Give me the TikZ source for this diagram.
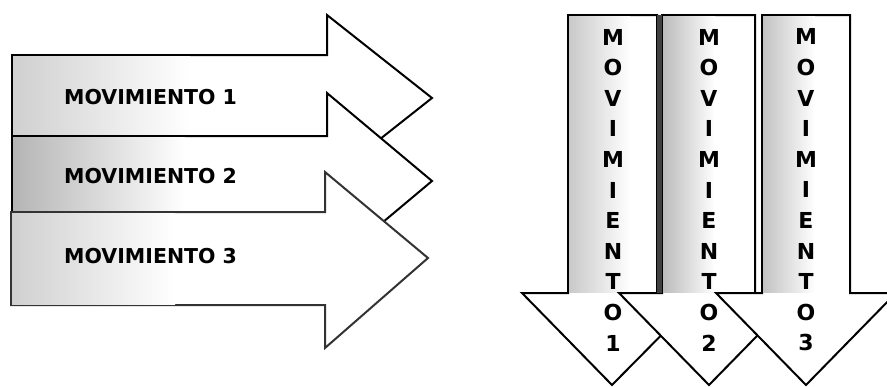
\documentclass[tikz,border=0pt]{standalone}
\usepackage{fontspec}
\setmainfont{DejaVu Sans}
\definecolor{Smudge}{RGB}{120,120,120}

\begin{document}
\begin{tikzpicture}[x=1pt, y=-1pt,
  arw/.style={draw=black, line width=2pt, fill=white, line join=miter},
  shd/.style={left color=Smudge!#1, right color=white},
  lbl/.style={font=\fontsize{20.5}{20}\selectfont\bfseries, inner sep=0pt, anchor=west},
  col/.style={font=\fontsize{22}{30.6}\selectfont\bfseries, inner sep=0pt, align=center}]
  \useasboundingbox (0,0) rectangle (887,386);
  \clip (0,0) rectangle (887,386);
  % horizontal arrows, the lower one lies on top
  \draw[arw] (12,55) -- (327,55) -- (327,15) -- (432,98) -- (327,181) -- (327,136) -- (12,136) -- cycle;
  \shade[shd=35] (13,56) rectangle (190,135);
  \draw[arw] (12,136) -- (327,136) -- (327,93) -- (432,181) -- (327,269) -- (327,212) -- (12,212) -- cycle;
  \shade[shd=55] (13,137) rectangle (185,211);
  \draw[arw, draw=black!80] (11,212) -- (325,212) -- (325,172) -- (428,258) -- (325,348) -- (325,305) -- (11,305) -- cycle;
  \shade[shd=35] (12,213) rectangle (175,304);
  \node[lbl] (m1) at (64,97) {MOVIMIENTO 1};
  \node[lbl] (m2) at (64,176) {MOVIMIENTO 2};
  \node[lbl] (m3) at (64,256) {MOVIMIENTO 3};
  % vertical arrows, the right one lies on top
  \draw[arw] (568,15) -- (657,15) -- (657,293) -- (703,293) -- (612,385) -- (522,293) -- (568,293) -- cycle;
  \shade[shd=40] (569,16) rectangle (630,292);
  \draw[arw] (662,15) -- (755,15) -- (755,293) -- (799,293) -- (709,385) -- (619,293) -- (662,293) -- cycle;
  \fill[black!75] (657,15) rectangle (662,293);
  \shade[shd=50] (663,16) rectangle (715,292);
  \draw[arw] (762,15) -- (850,15) -- (850,293) -- (896,293) -- (806,385) -- (716,293) -- (762,293) -- cycle;
  \shade[shd=45] (763,16) rectangle (815,292);
  \node[col] (v1) at (613,190) {M\\O\\V\\I\\M\\I\\E\\N\\T\\O\\1};
  \node[col] (v2) at (709,190) {M\\O\\V\\I\\M\\I\\E\\N\\T\\O\\2};
  \node[col] (v3) at (806,190) {M\\O\\V\\I\\M\\I\\E\\N\\T\\O\\3};
\end{tikzpicture}
\end{document}
